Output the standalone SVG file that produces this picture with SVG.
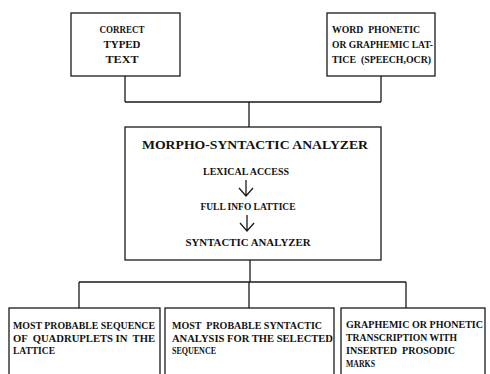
<svg xmlns="http://www.w3.org/2000/svg" width="490" height="374" viewBox="0 0 490 374">
<style>
.box{fill:#fff;stroke:#1a1a1a;stroke-width:1.3}
.ln{fill:none;stroke:#1a1a1a;stroke-width:1.3}
text{font-family:"Liberation Serif","DejaVu Serif",serif;font-size:10px;fill:#111;font-weight:bold;white-space:pre}
.t{font-size:13px}
.c{text-anchor:middle}
</style>
<rect width="490" height="374" fill="#fff"/>
<g id="connectors">
<path class="ln" d="M125,76 V102 M381,76 V102 M125,102 H381 M249,102 V127"/>
<path class="ln" d="M250,260 V282 M79,282 H406 M79,282 V308 M249,282 V308 M406,282 V308"/>
</g>
<g id="correct-text">
<rect class="box" x="71" y="13" width="109" height="63"/>
<text x="122" y="33" class="c" textLength="45" lengthAdjust="spacingAndGlyphs">CORRECT</text>
<text x="122" y="48" class="c" textLength="37" lengthAdjust="spacingAndGlyphs">TYPED</text>
<text x="122" y="63" class="c" textLength="33" lengthAdjust="spacingAndGlyphs">TEXT</text>
</g>
<g id="word-lattice">
<rect class="box" x="327" y="13" width="108" height="63"/>
<text x="332" y="33" textLength="88" lengthAdjust="spacingAndGlyphs" xml:space="preserve">WORD  PHONETIC</text>
<text x="332" y="48" textLength="101" lengthAdjust="spacingAndGlyphs">OR GRAPHEMIC LAT-</text>
<text x="332" y="63" textLength="99" lengthAdjust="spacingAndGlyphs" xml:space="preserve">TICE  (SPEECH,OCR)</text>
</g>
<g id="analyzer">
<rect class="box" x="125" y="127" width="256" height="133"/>
<text x="255" y="149" class="c t" textLength="226" lengthAdjust="spacingAndGlyphs">MORPHO-SYNTACTIC ANALYZER</text>
<text x="246" y="175" class="c" textLength="86" lengthAdjust="spacingAndGlyphs">LEXICAL ACCESS</text>
<path class="ln" d="M246,180 V196 M239,188 L246,196 L253,188"/>
<text x="248" y="210" class="c" textLength="95" lengthAdjust="spacingAndGlyphs">FULL INFO LATTICE</text>
<path class="ln" d="M247,215 V231 M240,223 L247,231 L254,223"/>
<text x="248" y="246" class="c" textLength="125" lengthAdjust="spacingAndGlyphs">SYNTACTIC ANALYZER</text>
</g>
<g id="out-quadruplets">
<rect class="box" x="9" y="308" width="151" height="80"/>
<text x="13" y="329" textLength="142" lengthAdjust="spacingAndGlyphs">MOST PROBABLE SEQUENCE</text>
<text x="13" y="342" textLength="142" lengthAdjust="spacingAndGlyphs" xml:space="preserve">OF  QUADRUPLETS IN  THE</text>
<text x="13" y="354" textLength="42" lengthAdjust="spacingAndGlyphs">LATTICE</text>
</g>
<g id="out-syntactic">
<rect class="box" x="165" y="308" width="169" height="80"/>
<text x="172" y="329" textLength="150" lengthAdjust="spacingAndGlyphs" xml:space="preserve">MOST  PROBABLE SYNTACTIC</text>
<text x="172" y="342" textLength="161" lengthAdjust="spacingAndGlyphs">ANALYSIS FOR THE SELECTED</text>
<text x="172" y="354" textLength="44" lengthAdjust="spacingAndGlyphs">SEQUENCE</text>
</g>
<g id="out-transcription">
<rect class="box" x="341" y="308" width="144" height="80"/>
<text x="346" y="328" textLength="137" lengthAdjust="spacingAndGlyphs">GRAPHEMIC OR PHONETIC</text>
<text x="346" y="341" textLength="111" lengthAdjust="spacingAndGlyphs">TRANSCRIPTION WITH</text>
<text x="346" y="354" textLength="109" lengthAdjust="spacingAndGlyphs" xml:space="preserve">INSERTED  PROSODIC</text>
<text x="346" y="367" textLength="29" lengthAdjust="spacingAndGlyphs">MARKS</text>
</g>
</svg>
